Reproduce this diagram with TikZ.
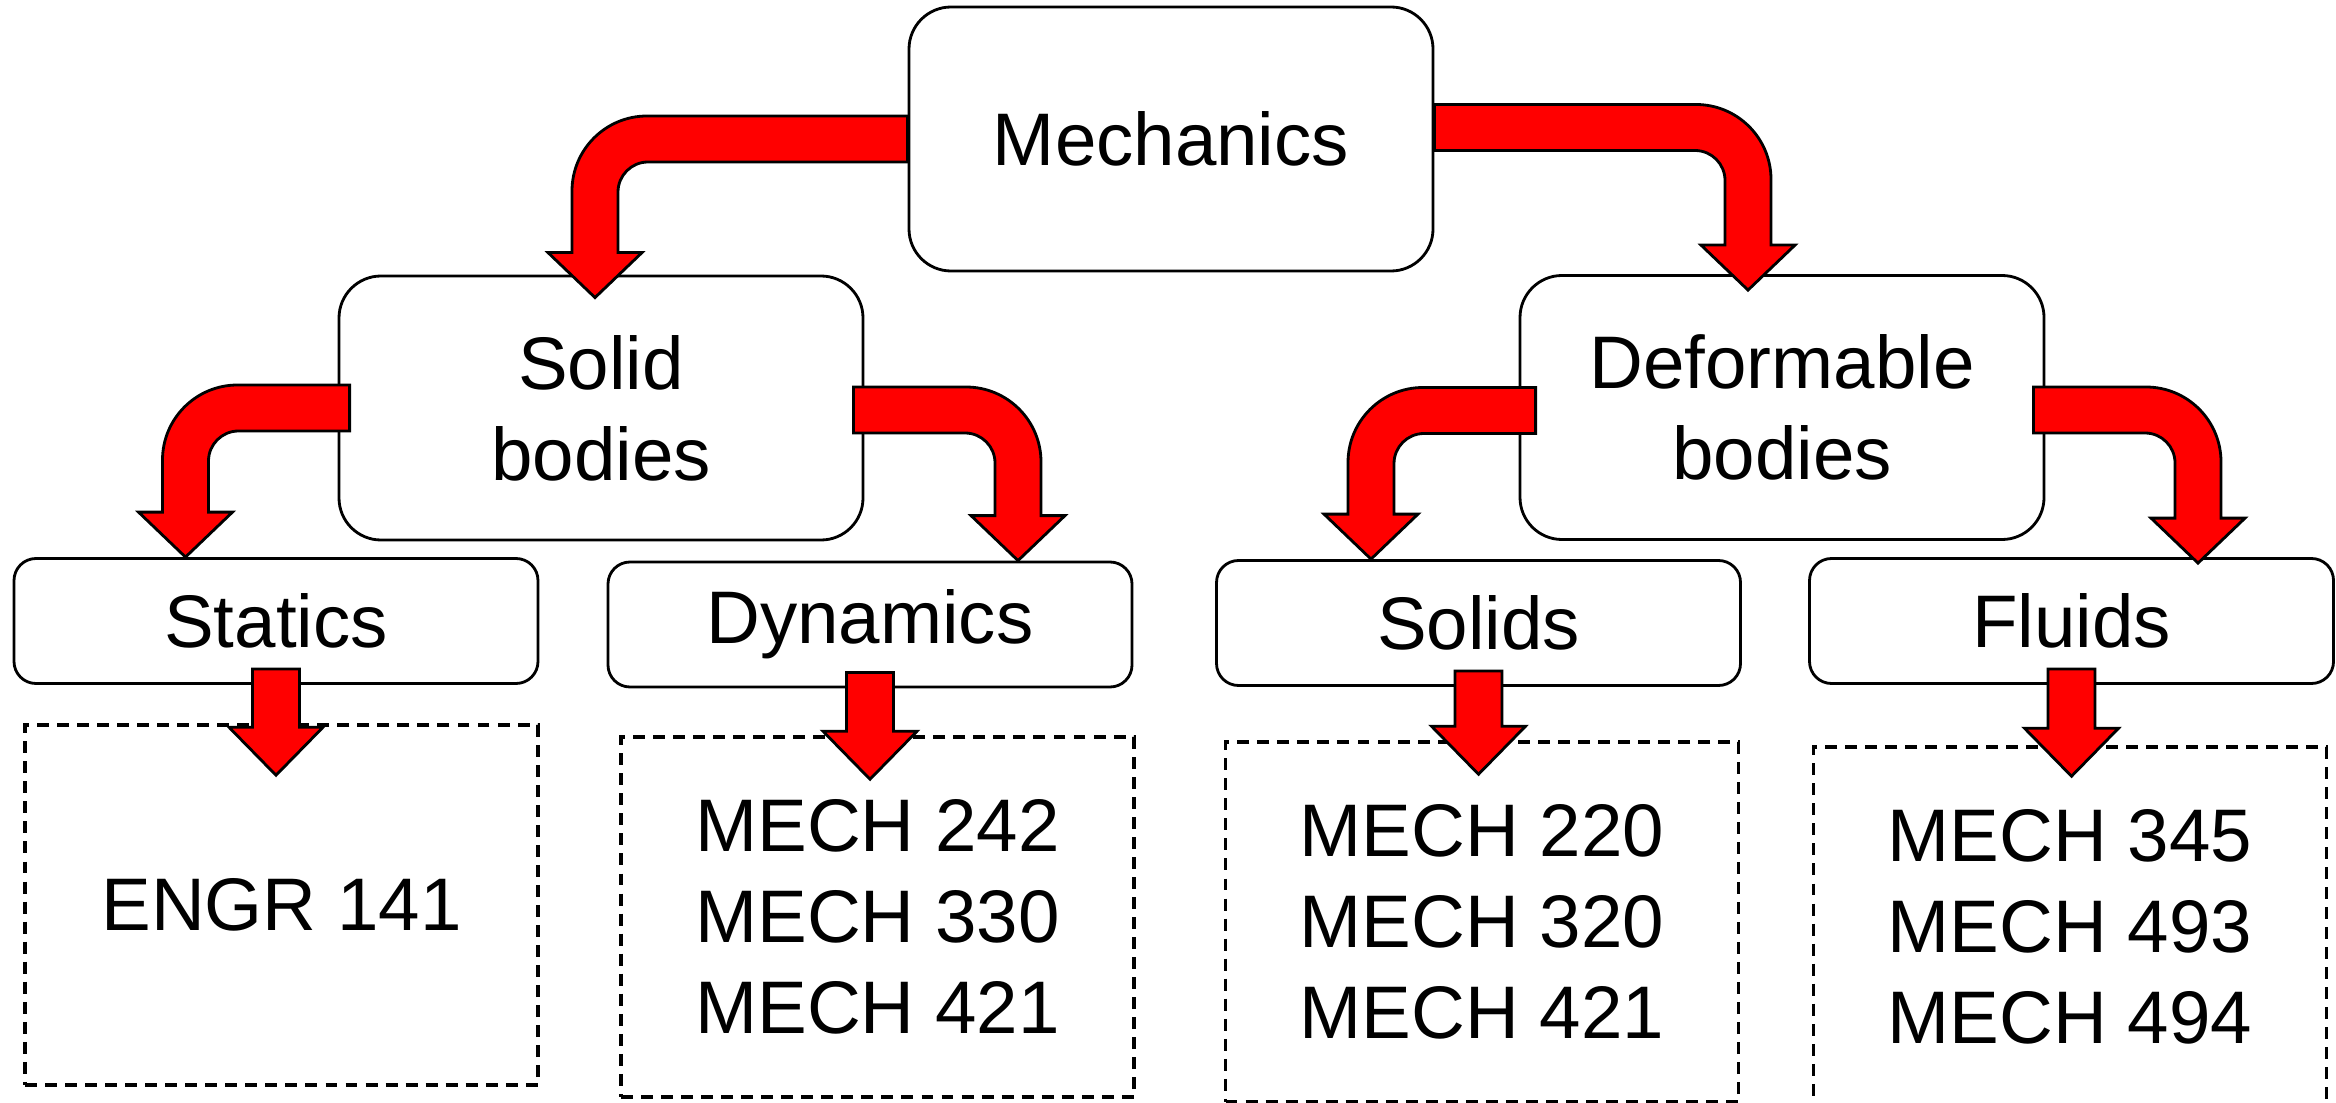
\documentclass[tikz,border=0pt]{standalone}
\usepackage{fontspec}
\setmainfont{Liberation Sans}
\usetikzlibrary{calc}

% band and head sizes of the red arrows
\def\bandw{0.23cm}
\def\bendro{0.75cm}
\def\bendri{0.30cm}
\def\headw{0.47cm}
\def\headl{0.45cm}
\def\shaftw{0.235cm}
\def\dheadw{0.47cm}
\def\dheadl{0.48cm}

% #1 = 1 (turns right) or -1 (turns left), #2 = tail, #3 = tip
\newcommand{\bentarrow}[3]{%
  \draw[fat] let \p1=(#2), \p2=(#3) in
    (\x1,{\y1+\bandw}) -- ({\x2+(#1)*(\bandw-\bendro)},{\y1+\bandw})
    arc[start angle=90, end angle={90-(#1)*90}, radius=\bendro]
    -- ({\x2+(#1)*\bandw},{\y2+\headl}) -- ({\x2+(#1)*\headw},{\y2+\headl}) -- (\x2,\y2)
    -- ({\x2-(#1)*\headw},{\y2+\headl}) -- ({\x2-(#1)*\bandw},{\y2+\headl})
    -- ({\x2-(#1)*\bandw},{\y1-\bandw-\bendri})
    arc[start angle={90-(#1)*90}, end angle=90, radius=\bendri]
    -- (\x1,{\y1-\bandw}) -- cycle;}

% straight arrow pointing down, #1 = tail, #2 = tip
\newcommand{\droparrow}[2]{%
  \draw[fat] let \p1=(#1), \p2=(#2) in
    ({\x2-\shaftw},\y1) -- ({\x2+\shaftw},\y1) -- ({\x2+\shaftw},{\y2+\dheadl})
    -- ({\x2+\dheadw},{\y2+\dheadl}) -- (\x2,\y2) -- ({\x2-\dheadw},{\y2+\dheadl})
    -- ({\x2-\shaftw},{\y2+\dheadl}) -- cycle;}

\begin{document}
\begin{tikzpicture}[
    blk/.style={draw, line width=0.8pt, align=center, minimum width=5.24cm,
                font=\fontsize{21.2}{25.9}\selectfont},
    big/.style={blk, rounded corners=0.42cm, minimum height=2.64cm},
    sub/.style={blk, rounded corners=0.22cm, minimum height=1.25cm},
    crs/.style={blk, line width=1pt, dash pattern=on 3.4pt off 2.3pt,
                minimum width=5.13cm, minimum height=3.6cm},
    fat/.style={draw, fill=red, line width=0.8pt}
  ]
  \useasboundingbox (0,0) rectangle (23.36,11.02);

  \node[big] (mech)   at (11.71,9.63)   {Mechanics};
  \node[big] (solid)  at (6.01,6.94)    {Solid\\bodies};
  \node[big] (deform) at (17.82,6.945)  {Deformable\\bodies};

  \node[sub] (stat) at (2.76,4.81)   {Statics};
  \node[sub] (dyn)  at (8.70,4.775)  {Dynamics};
  \node[sub] (sol)  at (14.785,4.79) {Solids};
  \node[sub] (flu)  at (20.715,4.81) {Fluids};

  \node[crs] (c1) at (2.815,1.97) {ENGR 141};
  \node[crs] (c2) at (8.775,1.85) {MECH 242\\MECH 330\\MECH 421};
  \node[crs] (c3) at (14.82,1.80) {MECH 220\\MECH 320\\MECH 421};
  \node[crs] (c4) at (20.70,1.75) {MECH 345\\MECH 493\\MECH 494};

  \bentarrow{-1}{mech.west}{$(solid.north)+(-0.06,-0.23)$}
  \bentarrow{1}{$(mech.east)+(0,0.115)$}{$(deform.north)+(-0.34,-0.16)$}
  \bentarrow{-1}{$(solid.west)+(0.12,0)$}{$(stat.north)+(-0.905,0)$}
  \bentarrow{1}{$(solid.east)+(-0.11,-0.02)$}{$(dyn.north)+(1.48,0)$}
  \bentarrow{-1}{$(deform.west)+(0.17,-0.03)$}{$(sol.north)+(-1.075,0)$}
  \bentarrow{1}{$(deform.east)+(-0.12,-0.025)$}{$(flu.north)+(1.265,-0.06)$}

  \droparrow{$(stat.south)+(0,0.16)$}{$(stat.south |- c1.north)+(0,-0.52)$}
  \droparrow{$(dyn.south)+(0,0.16)$}{$(dyn.south |- c2.north)+(0,-0.44)$}
  \droparrow{$(sol.south)+(0,0.16)$}{$(sol.south |- c3.north)+(0,-0.34)$}
  \droparrow{$(flu.south)+(0,0.16)$}{$(flu.south |- c4.north)+(0,-0.31)$}
\end{tikzpicture}
\end{document}
